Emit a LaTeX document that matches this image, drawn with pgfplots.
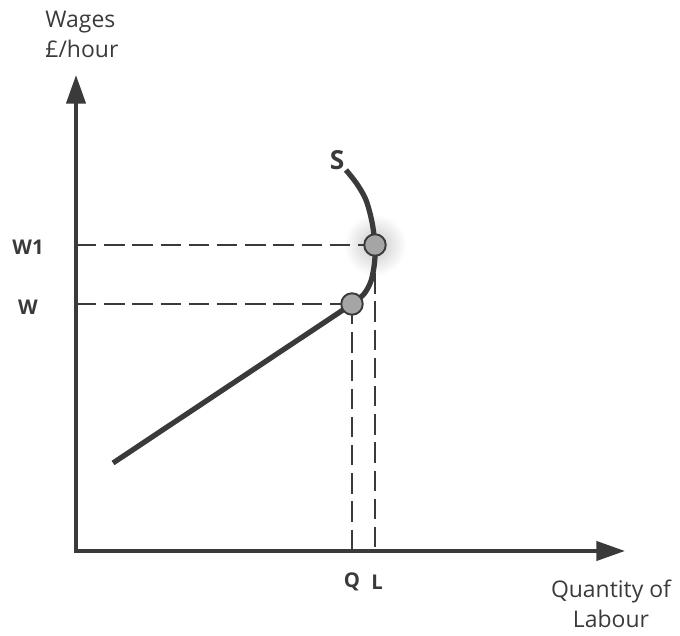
\documentclass[border=0pt]{standalone}
\usepackage{fontspec}
\setmainfont{Open Sans}
\usepackage{pgfplots}
\pgfplotsset{compat=1.18}
\usetikzlibrary{arrows.meta}
\definecolor{ink}{RGB}{58,58,58}
\definecolor{dot}{RGB}{165,165,165}

\begin{document}
\begin{tikzpicture}
\begin{axis}[
    width=10cm, height=9.279cm,
    scale only axis,
    xmin=0, xmax=680, ymin=0, ymax=631,
    hide axis,
    clip=false,
]
    \path (axis cs:0,0) rectangle (axis cs:680,631);
    % soft glow behind upper point
    \shade[inner color=black!22, outer color=white] (axis cs:375,386) circle (13pt);

    % dashed guides
    \addplot[ink, line width=0.55pt, dash pattern=on 8.5pt off 3.3pt] coordinates {(76,386) (375,386)};
    \addplot[ink, line width=0.55pt, dash pattern=on 8.5pt off 3.3pt] coordinates {(76,327) (352,327)};
    \addplot[ink, line width=0.55pt, dash pattern=on 8.5pt off 3.3pt] coordinates {(352,327) (352,80)};
    \addplot[ink, line width=0.55pt, dash pattern=on 8.5pt off 3.3pt] coordinates {(375,386) (375,80)};

    % axes
    \addplot[ink, line width=1.6pt, -{Triangle[length=12pt,width=8pt]}] coordinates {(76,78) (76,556)};
    \addplot[ink, line width=1.6pt, -{Triangle[length=12pt,width=8pt]}] coordinates {(74,80) (625,80)};

    % supply curve
    \addplot[ink, line width=2.2pt] coordinates {(113,168) (352,327)};
    \addplot[ink, line width=2.2pt, smooth] coordinates {
        (352,327) (364,337) (371,350) (374.5,368) (375,386) (372,409) (366,431) (357,447) (346,461)};

    % points
    \addplot[only marks, mark=*, mark size=4.5pt, mark options={fill=dot, draw=ink, line width=0.8pt}]
        coordinates {(352,327) (375,386)};

    % labels
    \node[anchor=west, align=left, font=\fontsize{9.6}{12.5}\selectfont, text=ink] at (axis cs:37,597) {Wages\\\pounds/hour};
    \node[align=center, font=\fontsize{9.6}{12.5}\selectfont, text=ink] at (axis cs:611,27) {Quantity of\\Labour};
    \node[font=\bfseries\fontsize{8.5}{10}\selectfont, text=ink] at (axis cs:28,384) {W1};
    \node[font=\bfseries\fontsize{8.5}{10}\selectfont, text=ink] at (axis cs:28,324) {W};
    \node[font=\bfseries\fontsize{8.5}{10}\selectfont, text=ink] at (axis cs:352,49) {Q};
    \node[font=\bfseries\fontsize{8.5}{10}\selectfont, text=ink] at (axis cs:377,49) {L};
    \node[font=\bfseries\fontsize{11}{12}\selectfont, text=ink] at (axis cs:337,471) {S};
\end{axis}
\end{tikzpicture}
\end{document}
